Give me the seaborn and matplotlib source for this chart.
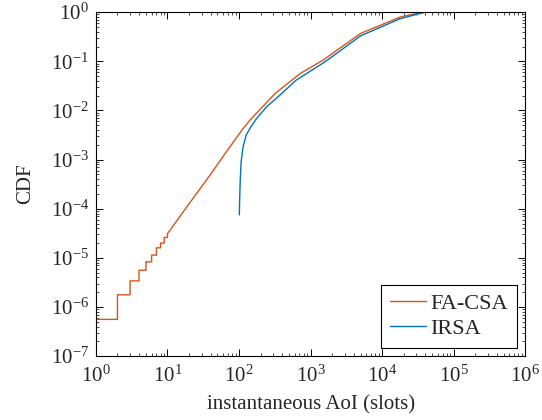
import numpy as np
import pandas as pd
import matplotlib
matplotlib.use("Agg")
import matplotlib.pyplot as plt
import seaborn as sns
from matplotlib.ticker import LogLocator, NullFormatter

# ---- data ----
fa_step_x = [1, 2, 3, 4, 5, 6, 7, 8, 9, 10]
fa_step_y = [5.6e-7, 1.77e-6, 3.4e-6, 5.6e-6, 8.3e-6, 1.14e-5, 1.6e-5, 2.0e-5, 2.6e-5, 3.1e-5]
fa_x = [20, 40, 70, 110, 143, 321, 720, 1500, 5000, 18000, 37000]
fa_y = [1.26e-4, 5.0e-4, 1.6e-3, 4.0e-3, 6.4e-3, 0.0223, 0.0567, 0.106, 0.369, 0.80, 1.0]

irsa_x = [101, 102, 104, 107, 113, 126, 143, 174, 240, 366, 630, 1600, 5000, 18000, 40000, 125000]
irsa_y = [7.5e-5, 1.5e-4, 3.85e-4, 8.9e-4, 1.72e-3, 3.16e-3, 4.4e-3, 6.7e-3, 0.0117, 0.020, 0.0415, 0.098, 0.33, 0.74, 1.0, 1.0]

labels = ["FA-CSA", "IRSA"]
colors = {"FA-CSA": "#D95319", "IRSA": "#0072BD"}

# build stair-step coordinates for the low-count part of FA-CSA
sx = np.repeat(fa_step_x, 2)[1:]
sy = np.repeat(fa_step_y, 2)[:-1]
fa_all_x = list(sx) + fa_x
fa_all_y = list(sy) + fa_y

df = pd.concat([
    pd.DataFrame({"x": fa_all_x, "y": fa_all_y, "series": "FA-CSA"}),
    pd.DataFrame({"x": irsa_x, "y": irsa_y, "series": "IRSA"}),
])

sns.set_style("ticks")
plt.rcParams["font.family"] = ["Liberation Serif", "DejaVu Serif"]
plt.rcParams["mathtext.fontset"] = "stix"

fig = plt.figure(figsize=(5.42, 4.2), dpi=100)
ax = fig.add_axes([0.177, 0.152, 0.792, 0.819])

sns.lineplot(data=df, x="x", y="y", hue="series", hue_order=labels, palette=colors,
             estimator=None, sort=False, linewidth=1.0, ax=ax)

ax.set_xscale("log")
ax.set_yscale("log")
ax.set_xlim(1, 1e6)
ax.set_ylim(1e-7, 1)

ax.xaxis.set_major_locator(LogLocator(base=10, numticks=20))
ax.yaxis.set_major_locator(LogLocator(base=10, numticks=20))
ax.xaxis.set_minor_locator(LogLocator(base=10, subs=np.arange(2, 10), numticks=100))
ax.yaxis.set_minor_locator(LogLocator(base=10, subs=np.arange(2, 10), numticks=100))
ax.xaxis.set_minor_formatter(NullFormatter())
ax.yaxis.set_minor_formatter(NullFormatter())

ax.tick_params(which="both", direction="in", top=True, right=True, labelsize=15, color="black")
ax.tick_params(axis="x", which="major", pad=7)
ax.tick_params(axis="y", which="major", pad=5)
ax.tick_params(which="major", length=5, width=0.7)
ax.tick_params(which="minor", length=2.5, width=0.5)
for s in ax.spines.values():
    s.set_linewidth(0.8)
    s.set_color("black")

ax.set_xlabel("instantaneous AoI (slots)", fontsize=15, labelpad=6)
ax.set_ylabel("CDF", fontsize=15, labelpad=11)

leg = ax.legend(loc="lower right", fontsize=16, frameon=True, fancybox=False,
                edgecolor="black", framealpha=1, borderaxespad=0.36,
                handlelength=1.65, handletextpad=0.2, borderpad=0.4, labelspacing=0.2)
leg.get_frame().set_linewidth(0.8)

fig.savefig("out.png", dpi=100)
